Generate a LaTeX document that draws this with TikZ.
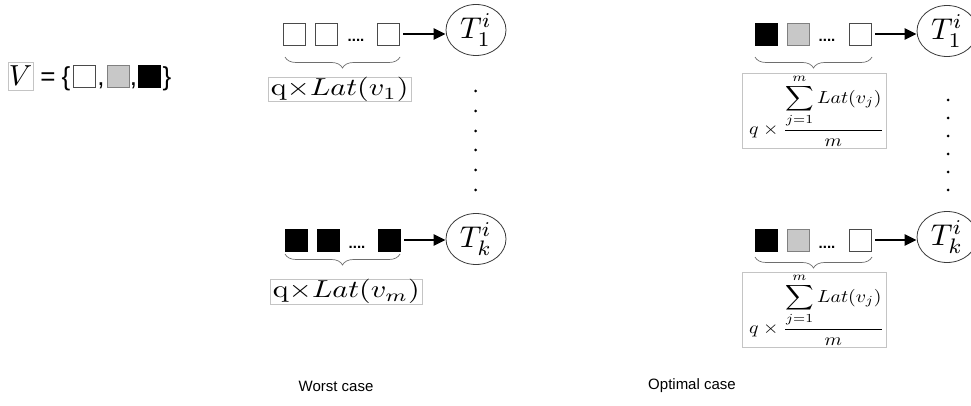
\documentclass[tikz,border=0pt]{standalone}
\usepackage{graphicx}
\usepackage{fontspec}
\newfontfamily\sansf{Liberation Sans}
\usetikzlibrary{arrows.meta,decorations.pathreplacing,shapes.geometric}
\definecolor{boxgray}{HTML}{C4C4C4}
\definecolor{sqline}{HTML}{4A4A4A}
\definecolor{grayfill}{HTML}{C8C8C8}
\definecolor{grayline}{HTML}{808080}
\definecolor{braceline}{HTML}{6E6E6E}
\definecolor{circline}{HTML}{3A3A3A}
\newcommand{\optfrac}{$\displaystyle q\times\frac{\displaystyle\sum_{j=1}^{m}Lat(v_j)}{m}$}
\begin{document}
\begin{tikzpicture}[x=1pt,y=1pt,
  wsq/.style={draw=sqline,fill=white,line width=0.8pt,minimum size=22pt,inner sep=0pt},
  gsq/.style={draw=grayline,fill=grayfill,line width=0.8pt,minimum size=22pt,inner sep=0pt},
  bsq/.style={draw=black,fill=black,line width=0.8pt,minimum size=22pt,inner sep=0pt},
  task/.style={ellipse,draw=circline,line width=0.8pt,minimum width=60pt,minimum height=51pt,inner sep=0pt},
  lbl/.style={draw=boxgray,line width=0.7pt,inner sep=0pt},
  sans/.style={font=\sansf\fontsize{26}{30}\selectfont,inner sep=0pt,anchor=base},
  ddots/.style={font=\sansf\bfseries\fontsize{15}{18}\selectfont,inner sep=0pt,anchor=base},
  captxt/.style={font=\sansf\fontsize{15}{18}\selectfont,inner sep=0pt},
  arr/.style={line width=2.2pt,-{Triangle[length=12pt,width=11pt]},shorten <=4pt},
  brc/.style={draw=braceline,line width=0.7pt,decorate,decoration={brace,mirror,amplitude=11pt}}]
\useasboundingbox (0,0) rectangle (971,-406);
% ---- V set ----
\node[lbl,minimum width=25pt,minimum height=28pt] (V) at (20.5,-76) {\scalebox{2.9}{$V$}};
\node[sans] (eq) at (48,-86) {=};
\node[sans] (lb) at (66,-86) {\{};
\node[wsq] (v1) at (84,-76.5) {};
\node[sans] (c1) at (101,-86) {,};
\node[gsq] (v2) at (118,-76.5) {};
\node[sans] (c2) at (133.5,-86) {,};
\node[bsq] (v3) at (149.5,-76.5) {};
\node[sans] (rb) at (167,-86) {\}};
% ---- Worst case, top ----
\node[wsq] (a1) at (294,-34) {};
\node[wsq] (a2) at (326,-34) {};
\node[ddots] (ad) at (356,-42) {....};
\node[wsq] (a3) at (388,-34) {};
\node[task] (T1) at (476,-30) {\scalebox{3.0}{$T_1^i$}};
\draw[arr] (a3.east) -- (a3.east -| T1.west);
\draw[brc] (285,-57) -- (400,-57);
\node[lbl,inner xsep=2.5pt,anchor=north west] (la) at (268,-77) {\scalebox{3.0}[2.45]{$\mathrm{q}{\times}Lat(v_1)$}};
\foreach \yy in {91,111,131,150,170,190} \fill (475.5,-\yy) circle (1.5);
% ---- Worst case, bottom ----
\node[bsq] (b1) at (296,-240) {};
\node[bsq] (b2) at (328,-240) {};
\node[ddots] (bd) at (357,-248) {....};
\node[bsq] (b3) at (389,-240) {};
\node[task] (Tk) at (476,-239) {\scalebox{3.0}{$T_k^i$}};
\draw[arr] (b3.east) -- (b3.east -| Tk.west);
\draw[brc] (285,-254) -- (400,-254);
\node[lbl,inner xsep=2.5pt,anchor=north west] (lb2) at (270,-279) {\scalebox{3.0}[2.45]{$\mathrm{q}{\times}Lat(v_m)$}};
% ---- Optimal case, top ----
\node[bsq] (c1s) at (766,-34) {};
\node[gsq] (c2s) at (798,-34) {};
\node[ddots] (cd) at (827,-42) {....};
\node[wsq] (c3s) at (860,-34) {};
\node[task] (O1) at (947,-31) {\scalebox{3.0}{$T_1^i$}};
\draw[arr] (c3s.east) -- (c3s.east -| O1.west);
\draw[brc] (755,-57) -- (872,-57);
\node[lbl,minimum width=144pt,minimum height=75pt] (lc) at (814,-110.5) {\hspace{5pt}\scalebox{1.98}[1.75]{\optfrac}};
\foreach \yy in {100,118,136,154,172,190} \fill (948,-\yy) circle (1.5);
% ---- Optimal case, bottom ----
\node[bsq] (d1s) at (766,-240) {};
\node[gsq] (d2s) at (798,-240) {};
\node[ddots] (dd) at (827,-248) {....};
\node[wsq] (d3s) at (860,-240) {};
\node[task] (Ok) at (947,-237) {\scalebox{3.0}{$T_k^i$}};
\draw[arr] (d3s.east) -- (d3s.east -| Ok.west);
\draw[brc] (755,-257) -- (872,-257);
\node[lbl,minimum width=144pt,minimum height=75pt] (ld) at (814,-309.5) {\hspace{5pt}\scalebox{1.98}[1.75]{\optfrac}};
% ---- captions ----
\node[captxt] (wc) at (336,-386) {Worst case};
\node[captxt] (oc) at (692,-386) {Optimal case};
\end{tikzpicture}
\end{document}
